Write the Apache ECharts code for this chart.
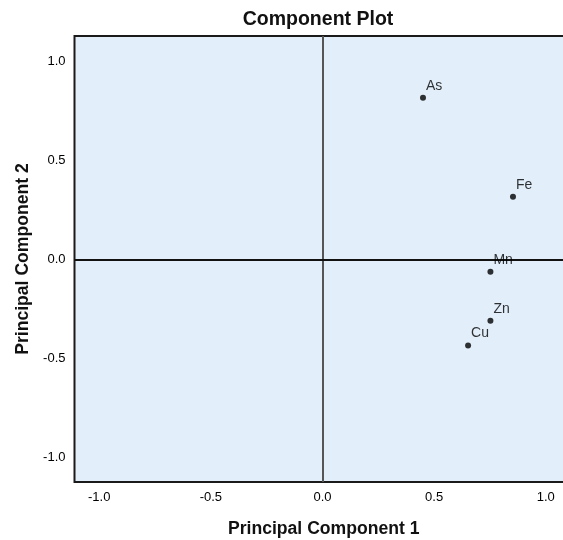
<!DOCTYPE html>
<html>
<head>
<meta charset="utf-8">
<script src="https://cdn.jsdelivr.net/npm/echarts@6/dist/echarts.min.js"></script>
<style>html,body{margin:0;padding:0;background:#fff}#c{width:563px;height:540px}</style>
</head>
<body>
<div id="c"></div>
<script>
const variables = ['As', 'Fe', 'Mn', 'Zn', 'Cu'];
const pc1 = [0.450, 0.853, 0.752, 0.752, 0.652];
const pc2 = [0.817, 0.317, -0.062, -0.310, -0.435];
const tickValues = [-1.0, -0.5, 0.0, 0.5, 1.0];

const FONT = '"Liberation Sans", Arial, sans-serif';
const points = variables.map((v, i) => ({ name: v, value: [pc1[i], pc2[i]] }));

const chart = echarts.init(document.getElementById('c'), null, { renderer: 'canvas' });
chart.setOption({
  animation: false,
  backgroundColor: '#ffffff',
  title: {
    text: 'Component Plot',
    left: 313, top: 5, textAlign: 'center',
    textStyle: { fontFamily: FONT, fontSize: 19.5, fontWeight: 'bold', color: '#111' }
  },
  grid: {
    left: 74.5, top: 36, height: 446, width: 498.5,
    outerBoundsMode: 'none', containLabel: false,
    show: true, backgroundColor: '#e2eefa', borderColor: '#1a1a1a', borderWidth: 2
  },
  xAxis: {
    type: 'value', min: -1.1106, max: 1.1218,
    name: 'Principal Component 1', nameLocation: 'middle', nameGap: 38,
    nameTextStyle: { fontFamily: FONT, fontSize: 17.6, fontWeight: 'bold', color: '#111' },
    axisLine: { show: false }, axisTick: { show: false }, splitLine: { show: false },
    axisLabel: { customValues: tickValues, margin: 9, fontFamily: FONT, fontSize: 13, color: '#000',
      formatter: v => v.toFixed(1) }
  },
  yAxis: {
    type: 'value', min: -1.124, max: 1.129,
    name: 'Principal Component 2', nameLocation: 'middle', nameGap: 41,
    nameTextStyle: { fontFamily: FONT, fontSize: 17.6, fontWeight: 'bold', color: '#111' },
    axisLine: { show: false }, axisTick: { show: false }, splitLine: { show: false },
    axisLabel: { customValues: tickValues, margin: 9, fontFamily: FONT, fontSize: 13, color: '#000',
      padding: [4, 0, 0, 0], formatter: v => v.toFixed(1) }
  },
  series: [{
    type: 'scatter',
    data: points,
    symbol: 'circle', symbolSize: 6,
    itemStyle: { color: '#000' },
    label: {
      show: true, position: 'right', distance: 5, offset: [-5, -12],
      formatter: p => p.name,
      fontFamily: FONT, fontSize: 14, color: '#000'
    },
    markLine: {
      silent: true, symbol: 'none', label: { show: false },
      animation: false,
      data: [
        { xAxis: 0, lineStyle: { color: '#555', width: 2, type: 'solid' } },
        { yAxis: 0, lineStyle: { color: '#111', width: 2, type: 'solid' } }
      ]
    },
    z: 5
  }]
});
</script>
</body>
</html>
